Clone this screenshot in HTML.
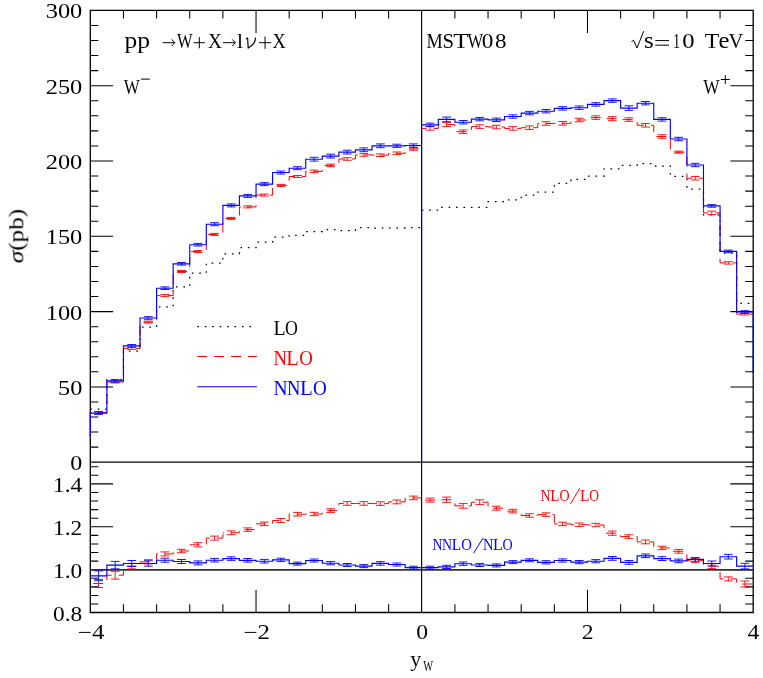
<!DOCTYPE html>
<html><head><meta charset="utf-8"><title>W rapidity distribution</title>
<style>html,body{margin:0;padding:0;background:#fff}svg{display:block}text{font-family:"Liberation Serif",serif;}</style>
</head><body>
<svg width="763" height="678" viewBox="0 0 763 678">
<rect width="763" height="678" fill="#fff"/>
<path d="M90.3 10.4H753.2V612.5H90.3Z" stroke="#000" stroke-width="1.3" fill="none"/>
<path d="M90.3 462.2H753.2" stroke="#000" stroke-width="1.2" fill="none"/>
<path d="M123.44 10.4v8.2M123.44 612.5v-8.2M156.59 10.4v8.2M156.59 612.5v-8.2M189.74 10.4v8.2M189.74 612.5v-8.2M222.88 10.4v8.2M222.88 612.5v-8.2M256.03 10.4v22.5M256.03 612.5v-22.5M289.17 10.4v8.2M289.17 612.5v-8.2M322.32 10.4v8.2M322.32 612.5v-8.2M355.46 10.4v8.2M355.46 612.5v-8.2M388.61 10.4v8.2M388.61 612.5v-8.2M454.9 10.4v8.2M454.9 612.5v-8.2M488.04 10.4v8.2M488.04 612.5v-8.2M521.19 10.4v8.2M521.19 612.5v-8.2M554.33 10.4v8.2M554.33 612.5v-8.2M587.48 10.4v22.5M587.48 612.5v-22.5M620.62 10.4v8.2M620.62 612.5v-8.2M653.76 10.4v8.2M653.76 612.5v-8.2M686.91 10.4v8.2M686.91 612.5v-8.2M720.06 10.4v8.2M720.06 612.5v-8.2M90.3 447.14h8M753.2 447.14h-8M90.3 432.08h8M753.2 432.08h-8M90.3 417.02h8M753.2 417.02h-8M90.3 401.96h8M753.2 401.96h-8M90.3 386.9h22.8M753.2 386.9h-22.8M90.3 371.84h8M753.2 371.84h-8M90.3 356.78h8M753.2 356.78h-8M90.3 341.72h8M753.2 341.72h-8M90.3 326.66h8M753.2 326.66h-8M90.3 311.6h22.8M753.2 311.6h-22.8M90.3 296.54h8M753.2 296.54h-8M90.3 281.48h8M753.2 281.48h-8M90.3 266.42h8M753.2 266.42h-8M90.3 251.36h8M753.2 251.36h-8M90.3 236.3h22.8M753.2 236.3h-22.8M90.3 221.24h8M753.2 221.24h-8M90.3 206.18h8M753.2 206.18h-8M90.3 191.12h8M753.2 191.12h-8M90.3 176.06h8M753.2 176.06h-8M90.3 161h22.8M753.2 161h-22.8M90.3 145.94h8M753.2 145.94h-8M90.3 130.88h8M753.2 130.88h-8M90.3 115.82h8M753.2 115.82h-8M90.3 100.76h8M753.2 100.76h-8M90.3 85.7h22.8M753.2 85.7h-22.8M90.3 70.64h8M753.2 70.64h-8M90.3 55.58h8M753.2 55.58h-8M90.3 40.52h8M753.2 40.52h-8M90.3 25.46h8M753.2 25.46h-8M90.3 604.04h8M753.2 604.04h-8M90.3 595.45h8M753.2 595.45h-8M90.3 586.87h8M753.2 586.87h-8M90.3 578.28h8M753.2 578.28h-8M90.3 569.7h22.8M753.2 569.7h-22.8M90.3 561.12h8M753.2 561.12h-8M90.3 552.53h8M753.2 552.53h-8M90.3 543.95h8M753.2 543.95h-8M90.3 535.36h8M753.2 535.36h-8M90.3 526.78h22.8M753.2 526.78h-22.8M90.3 518.2h8M753.2 518.2h-8M90.3 509.61h8M753.2 509.61h-8M90.3 501.03h8M753.2 501.03h-8M90.3 492.44h8M753.2 492.44h-8M90.3 483.86h22.8M753.2 483.86h-22.8M90.3 475.28h8M753.2 475.28h-8M90.3 466.69h8M753.2 466.69h-8" stroke="#000" stroke-width="1.05" fill="none" stroke-linecap="butt"/>
<path d="M90.3 569.9H753.2" stroke="#333" stroke-width="1.6" fill="none"/>
<path d="M90.3 409H106.87V379.6H123.44V351.1H140.02V327.1H156.59V306.9H173.16V286.9H189.74V273.1H206.31V263.2H222.88V253.8H239.45V247.5H256.03V242.2H272.6V237H289.17V235.4H305.74V231.5H322.31V229.7H338.89V230.5H355.46V227.6H372.03V228H388.61V227.8H405.18V227.5H421.75" stroke="#000" stroke-width="1.25" stroke-dasharray="1.6 5.82" fill="none"/>
<path d="M421.75 210.1H438.32V207.3H454.9V207.3H471.47V207.3H488.04V201.7H504.61V199.8H521.19V195H537.76V192H554.33V183.3H570.9V179.3H587.48V176.1H604.05V168.8H620.62V165.3H637.19V163.7H653.76V166.2H670.34V176.3H686.91V189H703.48V214.8H720.06V253H736.63V303.3H753.2" stroke="#000" stroke-width="1.25" stroke-dasharray="1.6 5.82" fill="none"/>
<path d="M90.3 439.5V412.6H106.87V382H123.44V348.4H140.02V322.1H156.59V295.6H173.16V271.5H189.74V251.6H206.31V234.4H222.88V218.4H239.45V206.9H256.03V195.1H272.6V185.4H289.17V176.5H305.74V171.4H322.31V165.4H338.89V159H355.46V154.9H372.03V155.2H388.61V153.3H405.18V148.9H421.75" stroke="#f00" stroke-width="1" stroke-dasharray="9.9 7.0" stroke-dashoffset="15.48" fill="none"/>
<path d="M421.75 128.4H438.32V124.6H454.9V131.7H471.47V126.6H488.04V127H504.61V128.4H521.19V127.7H537.76V123.5H554.33V123.3H570.9V120H587.48V117.6H604.05V118.7H620.62V119.6H637.19V125.3H653.76V136.5H670.34V152.2H686.91V178.2H703.48V212.9H720.06V262.9H736.63V314.1H753.2" stroke="#f00" stroke-width="1" stroke-dasharray="9.9 7.0" stroke-dashoffset="5.1" fill="none"/>
<path d="M98.59 411.6V413.6M94.19 411.6H102.99M94.19 413.6H102.99M115.16 381V383M110.76 381H119.56M110.76 383H119.56M131.73 347.4V349.4M127.33 347.4H136.13M127.33 349.4H136.13M148.3 321.1V323.1M143.9 321.1H152.7M143.9 323.1H152.7M164.88 294.6V296.6M160.48 294.6H169.28M160.48 296.6H169.28M181.45 270.5V272.5M177.05 270.5H185.85M177.05 272.5H185.85M198.02 250.6V252.6M193.62 250.6H202.42M193.62 252.6H202.42M214.59 233.4V235.4M210.19 233.4H218.99M210.19 235.4H218.99M231.17 217.4V219.4M226.77 217.4H235.57M226.77 219.4H235.57M247.74 205.9V207.9M243.34 205.9H252.14M243.34 207.9H252.14M264.31 194.1V196.1M259.91 194.1H268.71M259.91 196.1H268.71M280.88 184.4V186.4M276.48 184.4H285.28M276.48 186.4H285.28M297.46 175.5V177.5M293.06 175.5H301.86M293.06 177.5H301.86M314.03 170.1V172.7M309.63 170.1H318.43M309.63 172.7H318.43M330.6 164.1V166.7M326.2 164.1H335M326.2 166.7H335M347.17 157.7V160.3M342.77 157.7H351.57M342.77 160.3H351.57M363.75 153.6V156.2M359.35 153.6H368.15M359.35 156.2H368.15M380.32 153.9V156.5M375.92 153.9H384.72M375.92 156.5H384.72M396.89 152V154.6M392.49 152H401.29M392.49 154.6H401.29M413.46 147.6V150.2M409.06 147.6H417.86M409.06 150.2H417.86M430.04 126.65V130.15M425.64 126.65H434.44M425.64 130.15H434.44M446.61 122.6V126.6M442.21 122.6H451.01M442.21 126.6H451.01M463.18 129.95V133.45M458.78 129.95H467.58M458.78 133.45H467.58M479.75 124.85V128.35M475.35 124.85H484.15M475.35 128.35H484.15M496.33 125.25V128.75M491.93 125.25H500.73M491.93 128.75H500.73M512.9 126.65V130.15M508.5 126.65H517.3M508.5 130.15H517.3M529.47 125.95V129.45M525.07 125.95H533.87M525.07 129.45H533.87M546.04 121.75V125.25M541.64 121.75H550.44M541.64 125.25H550.44M562.62 121.55V125.05M558.22 121.55H567.02M558.22 125.05H567.02M579.19 118.25V121.75M574.79 118.25H583.59M574.79 121.75H583.59M595.76 115.85V119.35M591.36 115.85H600.16M591.36 119.35H600.16M612.33 116.7V120.7M607.93 116.7H616.73M607.93 120.7H616.73M628.91 117.85V121.35M624.51 117.85H633.31M624.51 121.35H633.31M645.48 123.55V127.05M641.08 123.55H649.88M641.08 127.05H649.88M662.05 134.75V138.25M657.65 134.75H666.45M657.65 138.25H666.45M678.62 151.2V153.2M674.22 151.2H683.02M674.22 153.2H683.02M695.2 176.45V179.95M690.8 176.45H699.6M690.8 179.95H699.6M711.77 211.15V214.65M707.37 211.15H716.17M707.37 214.65H716.17M728.34 261.7V264.1M723.94 261.7H732.74M723.94 264.1H732.74M744.91 313.2V315M740.51 313.2H749.31M740.51 315H749.31" stroke="#f00" stroke-width="0.9" fill="none"/>
<path d="M90.3 437V413.1H106.87V380.9H123.44V345.8H140.02V318H156.59V288.2H173.16V263.8H189.74V244.7H206.31V224.2H222.88V205.4H239.45V195.9H256.03V184.1H272.6V172.5H289.17V168.2H305.74V159.2H322.31V156.1H338.89V152.1H355.46V149.8H372.03V145.8H388.61V145.8H405.18V145.5H421.75" stroke="#00f" stroke-width="1.15" fill="none"/>
<path d="M421.75 124.8H438.32V119.4H454.9V122.2H471.47V119.1H488.04V119.8H504.61V116.5H521.19V113.1H537.76V111.2H554.33V108.4H570.9V107.7H587.48V104.4H604.05V100.6H620.62V108.1H637.19V103.2H653.76V119.4H670.34V139H686.91V165H703.48V205.9H720.06V251.4H736.63V312H753.2V373" stroke="#00f" stroke-width="1.15" fill="none"/>
<path d="M98.59 411.8V414.4M94.19 411.8H102.99M94.19 414.4H102.99M115.16 379.6V382.2M110.76 379.6H119.56M110.76 382.2H119.56M131.73 344.5V347.1M127.33 344.5H136.13M127.33 347.1H136.13M148.3 316.7V319.3M143.9 316.7H152.7M143.9 319.3H152.7M164.88 286.9V289.5M160.48 286.9H169.28M160.48 289.5H169.28M181.45 262.5V265.1M177.05 262.5H185.85M177.05 265.1H185.85M198.02 243.4V246M193.62 243.4H202.42M193.62 246H202.42M214.59 222.7V225.7M210.19 222.7H218.99M210.19 225.7H218.99M231.17 203.9V206.9M226.77 203.9H235.57M226.77 206.9H235.57M247.74 194.4V197.4M243.34 194.4H252.14M243.34 197.4H252.14M264.31 182.6V185.6M259.91 182.6H268.71M259.91 185.6H268.71M280.88 171V174M276.48 171H285.28M276.48 174H285.28M297.46 166.7V169.7M293.06 166.7H301.86M293.06 169.7H301.86M314.03 157.3V161.1M309.63 157.3H318.43M309.63 161.1H318.43M330.6 154.2V158M326.2 154.2H335M326.2 158H335M347.17 150.2V154M342.77 150.2H351.57M342.77 154H351.57M363.75 147.9V151.7M359.35 147.9H368.15M359.35 151.7H368.15M380.32 143.9V147.7M375.92 143.9H384.72M375.92 147.7H384.72M396.89 144.2V147.4M392.49 144.2H401.29M392.49 147.4H401.29M413.46 143.9V147.1M409.06 143.9H417.86M409.06 147.1H417.86M430.04 123.1V126.5M425.64 123.1H434.44M425.64 126.5H434.44M446.61 117.1V121.7M442.21 117.1H451.01M442.21 121.7H451.01M463.18 120.5V123.9M458.78 120.5H467.58M458.78 123.9H467.58M479.75 117.4V120.8M475.35 117.4H484.15M475.35 120.8H484.15M496.33 118.1V121.5M491.93 118.1H500.73M491.93 121.5H500.73M512.9 114.8V118.2M508.5 114.8H517.3M508.5 118.2H517.3M529.47 111.4V114.8M525.07 111.4H533.87M525.07 114.8H533.87M546.04 109.5V112.9M541.64 109.5H550.44M541.64 112.9H550.44M562.62 106.7V110.1M558.22 106.7H567.02M558.22 110.1H567.02M579.19 106V109.4M574.79 106H583.59M574.79 109.4H583.59M595.76 102.7V106.1M591.36 102.7H600.16M591.36 106.1H600.16M612.33 98.9V102.3M607.93 98.9H616.73M607.93 102.3H616.73M628.91 105.8V110.4M624.51 105.8H633.31M624.51 110.4H633.31M645.48 101.5V104.9M641.08 101.5H649.88M641.08 104.9H649.88M662.05 117.7V121.1M657.65 117.7H666.45M657.65 121.1H666.45M678.62 137.3V140.7M674.22 137.3H683.02M674.22 140.7H683.02M695.2 163.3V166.7M690.8 163.3H699.6M690.8 166.7H699.6M711.77 204.6V207.2M707.37 204.6H716.17M707.37 207.2H716.17M728.34 250.1V252.7M723.94 250.1H732.74M723.94 252.7H732.74M744.91 310.7V313.3M740.51 310.7H749.31M740.51 313.3H749.31" stroke="#00f" stroke-width="0.9" fill="none"/>
<path d="M90.3 583.5H106.87V575.2H123.44V566.1H140.02V561.8H156.59V553.9H173.16V551H189.74V544.8H206.31V538.1H222.88V532.8" stroke="#f00" stroke-width="1" stroke-dasharray="9.9 7.0" stroke-dashoffset="13.93" fill="none"/><path d="M222.88 532.8H239.45V529.6H256.03V523.8H272.6V520.5H289.17V514.2H305.74V514H322.31V510.6H338.89V503.5" stroke="#f00" stroke-width="1" stroke-dasharray="9.9 7.0" stroke-dashoffset="8.7" fill="none"/><path d="M338.89 503.5H355.46V503.4H372.03V503.6H388.61V501.9H405.18V497.9H421.75" stroke="#f00" stroke-width="1" stroke-dasharray="9.9 7.0" stroke-dashoffset="5.1" fill="none"/>
<path d="M421.75 500.1H438.32V499.7H454.9V505.9H471.47V502.2H488.04V508.2H504.61V511.1H521.19V515.5H537.76V514.6H554.33V523.9" stroke="#f00" stroke-width="1" stroke-dasharray="9.9 7.0" stroke-dashoffset="13.55" fill="none"/><path d="M554.33 523.9H570.9V524.7H587.48V525H604.05V533.2H620.62V536.6H637.19V541.9" stroke="#f00" stroke-width="1" stroke-dasharray="9.9 7.0" stroke-dashoffset="6.6" fill="none"/><path d="M637.19 541.9H653.76V547.9H670.34V551.3H686.91V560.7H703.48V566.1H720.06V578.9" stroke="#f00" stroke-width="1" stroke-dasharray="9.9 7.0" stroke-dashoffset="5.3" fill="none"/><path d="M720.06 578.9H736.63V584H753.2" stroke="#f00" stroke-width="1" stroke-dasharray="9.9 7.0" stroke-dashoffset="6.6" fill="none"/>
<path d="M98.59 579.5V587.5M94.19 579.5H102.99M94.19 587.5H102.99M115.16 571.3V579.1M110.76 571.3H119.56M110.76 579.1H119.56M131.73 563.3V568.9M127.33 563.3H136.13M127.33 568.9H136.13M148.3 559.7V563.9M143.9 559.7H152.7M143.9 563.9H152.7M164.88 551.9V555.9M160.48 551.9H169.28M160.48 555.9H169.28M181.45 549.3V552.7M177.05 549.3H185.85M177.05 552.7H185.85M198.02 542.7V546.9M193.62 542.7H202.42M193.62 546.9H202.42M214.59 536.1V540.1M210.19 536.1H218.99M210.19 540.1H218.99M231.17 530.9V534.7M226.77 530.9H235.57M226.77 534.7H235.57M247.74 527.9V531.3M243.34 527.9H252.14M243.34 531.3H252.14M264.31 522V525.6M259.91 522H268.71M259.91 525.6H268.71M280.88 518.5V522.5M276.48 518.5H285.28M276.48 522.5H285.28M297.46 512.4V516M293.06 512.4H301.86M293.06 516H301.86M314.03 512.3V515.7M309.63 512.3H318.43M309.63 515.7H318.43M330.6 508.8V512.4M326.2 508.8H335M326.2 512.4H335M347.17 501.7V505.3M342.77 501.7H351.57M342.77 505.3H351.57M363.75 501.6V505.2M359.35 501.6H368.15M359.35 505.2H368.15M380.32 501.8V505.4M375.92 501.8H384.72M375.92 505.4H384.72M396.89 500V503.8M392.49 500H401.29M392.49 503.8H401.29M413.46 496.1V499.7M409.06 496.1H417.86M409.06 499.7H417.86M430.04 498.1V502.1M425.64 498.1H434.44M425.64 502.1H434.44M446.61 497.1V502.3M442.21 497.1H451.01M442.21 502.3H451.01M463.18 503.6V508.2M458.78 503.6H467.58M458.78 508.2H467.58M479.75 499.8V504.6M475.35 499.8H484.15M475.35 504.6H484.15M496.33 506.2V510.2M491.93 506.2H500.73M491.93 510.2H500.73M512.9 509.3V512.9M508.5 509.3H517.3M508.5 512.9H517.3M529.47 513.8V517.2M525.07 513.8H533.87M525.07 517.2H533.87M546.04 512.8V516.4M541.64 512.8H550.44M541.64 516.4H550.44M562.62 522.2V525.6M558.22 522.2H567.02M558.22 525.6H567.02M579.19 523V526.4M574.79 523H583.59M574.79 526.4H583.59M595.76 523.3V526.7M591.36 523.3H600.16M591.36 526.7H600.16M612.33 531.1V535.3M607.93 531.1H616.73M607.93 535.3H616.73M628.91 534.8V538.4M624.51 534.8H633.31M624.51 538.4H633.31M645.48 540V543.8M641.08 540H649.88M641.08 543.8H649.88M662.05 546.2V549.6M657.65 546.2H666.45M657.65 549.6H666.45M678.62 549.4V553.2M674.22 549.4H683.02M674.22 553.2H683.02M695.2 558.7V562.7M690.8 558.7H699.6M690.8 562.7H699.6M711.77 563.8V568.4M707.37 563.8H716.17M707.37 568.4H716.17M728.34 576.9V580.9M723.94 576.9H732.74M723.94 580.9H732.74M744.91 581V587M740.51 581H749.31M740.51 587H749.31" stroke="#f00" stroke-width="0.9" fill="none"/>
<path d="M90.3 575.8H106.87V565.1H123.44V563.5H140.02V563.5H156.59V560.2H173.16V561.5H189.74V562.9H206.31V560.2H222.88V558.6H239.45V560.3H256.03V561.2H272.6V559.9H289.17V563.6H305.74V560.5H322.31V563.2H338.89V565H355.46V566.1H372.03V563.4H388.61V564.5H405.18V567.6H421.75V567.6H438.32V566.9H454.9V563.7H471.47V565H488.04V565.4H504.61V562.1H521.19V560.3H537.76V562.3H554.33V560.5H570.9V562.1H587.48V561.2H604.05V558.4H620.62V562.4H637.19V555.8H653.76V558.6H670.34V560.9H686.91V559.4H703.48V563.5H720.06V556.7H736.63V566.1H753.2" stroke="#00f" stroke-width="1.15" fill="none"/>
<path d="M98.59 570.9V580.7M94.19 570.9H102.99M94.19 580.7H102.99M115.16 561.4V568.8M110.76 561.4H119.56M110.76 568.8H119.56M131.73 560.5V566.5M127.33 560.5H136.13M127.33 566.5H136.13M148.3 560.8V566.2M143.9 560.8H152.7M143.9 566.2H152.7M164.88 558.2V562.2M160.48 558.2H169.28M160.48 562.2H169.28M181.45 559.5V563.5M177.05 559.5H185.85M177.05 563.5H185.85M198.02 560.9V564.9M193.62 560.9H202.42M193.62 564.9H202.42M214.59 558.4V562M210.19 558.4H218.99M210.19 562H218.99M231.17 556.8V560.4M226.77 556.8H235.57M226.77 560.4H235.57M247.74 558.5V562.1M243.34 558.5H252.14M243.34 562.1H252.14M264.31 559.4V563M259.91 559.4H268.71M259.91 563H268.71M280.88 558.2V561.6M276.48 558.2H285.28M276.48 561.6H285.28M297.46 562.1V565.1M293.06 562.1H301.86M293.06 565.1H301.86M314.03 559V562M309.63 559H318.43M309.63 562H318.43M330.6 561.6V564.8M326.2 561.6H335M326.2 564.8H335M347.17 563.5V566.5M342.77 563.5H351.57M342.77 566.5H351.57M363.75 564.6V567.6M359.35 564.6H368.15M359.35 567.6H368.15M380.32 561.6V565.2M375.92 561.6H384.72M375.92 565.2H384.72M396.89 563V566M392.49 563H401.29M392.49 566H401.29M413.46 566.2V569M409.06 566.2H417.86M409.06 569H417.86M430.04 566.2V569M425.64 566.2H434.44M425.64 569H434.44M446.61 565.3V568.5M442.21 565.3H451.01M442.21 568.5H451.01M463.18 562V565.4M458.78 562H467.58M458.78 565.4H467.58M479.75 563.5V566.5M475.35 563.5H484.15M475.35 566.5H484.15M496.33 563.9V566.9M491.93 563.9H500.73M491.93 566.9H500.73M512.9 560.6V563.6M508.5 560.6H517.3M508.5 563.6H517.3M529.47 558.8V561.8M525.07 558.8H533.87M525.07 561.8H533.87M546.04 560.7V563.9M541.64 560.7H550.44M541.64 563.9H550.44M562.62 558.9V562.1M558.22 558.9H567.02M558.22 562.1H567.02M579.19 560.5V563.7M574.79 560.5H583.59M574.79 563.7H583.59M595.76 559.6V562.8M591.36 559.6H600.16M591.36 562.8H600.16M612.33 556.5V560.3M607.93 556.5H616.73M607.93 560.3H616.73M628.91 560.5V564.3M624.51 560.5H633.31M624.51 564.3H633.31M645.48 554V557.6M641.08 554H649.88M641.08 557.6H649.88M662.05 556.7V560.5M657.65 556.7H666.45M657.65 560.5H666.45M678.62 559.1V562.7M674.22 559.1H683.02M674.22 562.7H683.02M695.2 557.5V561.3M690.8 557.5H699.6M690.8 561.3H699.6M711.77 561V566M707.37 561H716.17M707.37 566H716.17M728.34 554.4V559M723.94 554.4H732.74M723.94 559H732.74M744.91 563.3V568.9M740.51 563.3H749.31M740.51 568.9H749.31" stroke="#00f" stroke-width="0.9" fill="none"/>
<path d="M421.6 10.4V612.5" stroke="#000" stroke-width="1.15" fill="none"/>
<path d="M421.85 124.8V462.2" stroke="#00f" stroke-width="1.15" stroke-opacity="0.3" fill="none"/>
<path d="M197.4 326.7H251.5" stroke="#000" stroke-width="1.25" stroke-dasharray="1.6 5.82" fill="none"/>
<path d="M197.3 356.5H256.9" stroke="#f00" stroke-width="1" stroke-dasharray="9.9 7" fill="none"/>
<path d="M197.3 386.8H256.9" stroke="#00f" stroke-width="1.1" fill="none"/>
<g opacity="0.999">
<text x="279.45" y="335" font-size="21" text-anchor="middle" fill="#000" textLength="12.1" lengthAdjust="spacingAndGlyphs">L</text>
<text x="291.45" y="335" font-size="21" text-anchor="middle" fill="#000" textLength="12.9" lengthAdjust="spacingAndGlyphs">O</text>
<text x="280.15" y="364.8" font-size="21" text-anchor="middle" fill="#f00" textLength="13.5" lengthAdjust="spacingAndGlyphs">N</text>
<text x="292.55" y="364.8" font-size="21" text-anchor="middle" fill="#f00" textLength="12.5" lengthAdjust="spacingAndGlyphs">L</text>
<text x="306" y="364.8" font-size="21" text-anchor="middle" fill="#f00" textLength="13.6" lengthAdjust="spacingAndGlyphs">O</text>
<text x="280.45" y="394.7" font-size="21" text-anchor="middle" fill="#00f" textLength="14.1" lengthAdjust="spacingAndGlyphs">N</text>
<text x="293.7" y="394.7" font-size="21" text-anchor="middle" fill="#00f" textLength="13.4" lengthAdjust="spacingAndGlyphs">N</text>
<text x="306.4" y="394.7" font-size="21" text-anchor="middle" fill="#00f" textLength="12.8" lengthAdjust="spacingAndGlyphs">L</text>
<text x="319.8" y="394.7" font-size="21" text-anchor="middle" fill="#00f" textLength="13.8" lengthAdjust="spacingAndGlyphs">O</text>
<text x="130.75" y="48.4" font-size="23" text-anchor="middle" fill="#000" textLength="12.7" lengthAdjust="spacingAndGlyphs">p</text>
<text x="143.7" y="48.4" font-size="23" text-anchor="middle" fill="#000" textLength="12.8" lengthAdjust="spacingAndGlyphs">p</text>
<path d="M162.7 42.7H174.8M171.6 39.4L174.8 42.7L171.6 46" stroke="#000" stroke-width="1" fill="none" stroke-linejoin="miter"/>
<text x="184.8" y="48.4" font-size="21" text-anchor="middle" fill="#000" textLength="15.6" lengthAdjust="spacingAndGlyphs">W</text>
<text x="214.85" y="48.4" font-size="21" text-anchor="middle" fill="#000" textLength="13.9" lengthAdjust="spacingAndGlyphs">X</text>
<text x="240.1" y="48.4" font-size="21" text-anchor="middle" fill="#000" textLength="6" lengthAdjust="spacingAndGlyphs">l</text>
<text x="279.15" y="48.4" font-size="21" text-anchor="middle" fill="#000" textLength="13.3" lengthAdjust="spacingAndGlyphs">X</text>
<path d="M193.7 42.7H204.9M199.3 37.1V48.3" stroke="#000" stroke-width="1.0" fill="none"/>
<path d="M245.9 38.9L247.6 37.9L248.2 48.1C252.6 45.6 255.6 41.5 255.5 37.5" stroke="#000" stroke-width="1.15" fill="none" stroke-linejoin="round"/>
<path d="M223 42.7H235.4M232.2 39.4L235.4 42.7L232.2 46" stroke="#000" stroke-width="1" fill="none" stroke-linejoin="miter"/>
<path d="M258.9 42.7H271.2M265.05 36.55V48.85" stroke="#000" stroke-width="1.0" fill="none"/>
<text x="131.75" y="94" font-size="22" text-anchor="middle" fill="#000" textLength="16.1" lengthAdjust="spacingAndGlyphs">W</text>
<path d="M141 79.1H149.9" stroke="#000" stroke-width="1.0" fill="none"/>
<text x="711.5" y="94" font-size="22" text-anchor="middle" fill="#000" textLength="16.4" lengthAdjust="spacingAndGlyphs">W</text>
<path d="M720.8 79.5H729.8M725.3 75V84" stroke="#000" stroke-width="1.0" fill="none"/>
<text x="434.5" y="48.4" font-size="21" text-anchor="middle" fill="#000" textLength="16.2" lengthAdjust="spacingAndGlyphs">M</text>
<text x="448.15" y="48.4" font-size="21" text-anchor="middle" fill="#000" textLength="11.5" lengthAdjust="spacingAndGlyphs">S</text>
<text x="460.9" y="48.4" font-size="21" text-anchor="middle" fill="#000" textLength="15.4" lengthAdjust="spacingAndGlyphs">T</text>
<text x="475.2" y="48.4" font-size="21" text-anchor="middle" fill="#000" textLength="15.6" lengthAdjust="spacingAndGlyphs">W</text>
<text x="487.6" y="48.4" font-size="21" text-anchor="middle" fill="#000" textLength="11.6" lengthAdjust="spacingAndGlyphs">0</text>
<text x="500.85" y="48.4" font-size="21" text-anchor="middle" fill="#000" textLength="11.5" lengthAdjust="spacingAndGlyphs">8</text>
<path d="M631.5 41.5L633.6 40.3L637 48L643.7 31.2" stroke="#000" stroke-width="1" fill="none"/>
<text x="648.85" y="48.3" font-size="23" text-anchor="middle" fill="#000" textLength="9.7" lengthAdjust="spacingAndGlyphs">s</text>
<text x="676.55" y="48.3" font-size="21" text-anchor="middle" fill="#000" textLength="7.1" lengthAdjust="spacingAndGlyphs">1</text>
<text x="688.45" y="48.3" font-size="21" text-anchor="middle" fill="#000" textLength="12.3" lengthAdjust="spacingAndGlyphs">0</text>
<text x="712.05" y="48.3" font-size="21" text-anchor="middle" fill="#000" textLength="14.5" lengthAdjust="spacingAndGlyphs">T</text>
<text x="724.1" y="48.3" font-size="23" text-anchor="middle" fill="#000" textLength="11" lengthAdjust="spacingAndGlyphs">e</text>
<text x="735.8" y="48.3" font-size="21" text-anchor="middle" fill="#000" textLength="14.8" lengthAdjust="spacingAndGlyphs">V</text>
<path d="M655.3 40.6H669M655.3 45.2H669" stroke="#000" stroke-width="1" fill="none"/>
<text x="545.55" y="500.8" font-size="16.3" text-anchor="middle" fill="#f00" textLength="9.9" lengthAdjust="spacingAndGlyphs">N</text>
<text x="554.8" y="500.8" font-size="16.3" text-anchor="middle" fill="#f00" textLength="9.2" lengthAdjust="spacingAndGlyphs">L</text>
<text x="564.45" y="500.8" font-size="16.3" text-anchor="middle" fill="#f00" textLength="10.1" lengthAdjust="spacingAndGlyphs">O</text>
<text x="584.75" y="500.8" font-size="16.3" text-anchor="middle" fill="#f00" textLength="9.5" lengthAdjust="spacingAndGlyphs">L</text>
<text x="594.05" y="500.8" font-size="16.3" text-anchor="middle" fill="#f00" textLength="9.7" lengthAdjust="spacingAndGlyphs">O</text>
<path d="M570.5 503.8L579.8 488.2" stroke="#f00" stroke-width="1" fill="none"/>
<text x="437.6" y="550.3" font-size="16.5" text-anchor="middle" fill="#00f" textLength="10" lengthAdjust="spacingAndGlyphs">N</text>
<text x="447" y="550.3" font-size="16.5" text-anchor="middle" fill="#00f" textLength="10" lengthAdjust="spacingAndGlyphs">N</text>
<text x="456.5" y="550.3" font-size="16.5" text-anchor="middle" fill="#00f" textLength="9.4" lengthAdjust="spacingAndGlyphs">L</text>
<text x="466.5" y="550.3" font-size="16.5" text-anchor="middle" fill="#00f" textLength="10.6" lengthAdjust="spacingAndGlyphs">O</text>
<text x="488.25" y="550.3" font-size="16.5" text-anchor="middle" fill="#00f" textLength="10.5" lengthAdjust="spacingAndGlyphs">N</text>
<text x="498" y="550.3" font-size="16.5" text-anchor="middle" fill="#00f" textLength="9.8" lengthAdjust="spacingAndGlyphs">L</text>
<text x="507.6" y="550.3" font-size="16.5" text-anchor="middle" fill="#00f" textLength="10.2" lengthAdjust="spacingAndGlyphs">O</text>
<path d="M473.6 553.2L483.2 537.8" stroke="#00f" stroke-width="1" fill="none"/>
<text x="82.3" y="470.2" font-size="20.5" text-anchor="end" fill="#000" textLength="12" lengthAdjust="spacingAndGlyphs">0</text>
<text x="82.3" y="394.9" font-size="20.5" text-anchor="end" fill="#000" textLength="24.3" lengthAdjust="spacingAndGlyphs">50</text>
<text x="82.3" y="319.6" font-size="20.5" text-anchor="end" fill="#000" textLength="36.6" lengthAdjust="spacingAndGlyphs">100</text>
<text x="82.3" y="244.3" font-size="20.5" text-anchor="end" fill="#000" textLength="36.6" lengthAdjust="spacingAndGlyphs">150</text>
<text x="82.3" y="169" font-size="20.5" text-anchor="end" fill="#000" textLength="36.6" lengthAdjust="spacingAndGlyphs">200</text>
<text x="82.3" y="93.7" font-size="20.5" text-anchor="end" fill="#000" textLength="36.6" lengthAdjust="spacingAndGlyphs">250</text>
<text x="82.3" y="18.4" font-size="20.5" text-anchor="end" fill="#000" textLength="36.6" lengthAdjust="spacingAndGlyphs">300</text>
<text x="82.3" y="620.62" font-size="20.5" text-anchor="end" fill="#000" textLength="29.2" lengthAdjust="spacingAndGlyphs">0.8</text>
<text x="82.3" y="577.7" font-size="20.5" text-anchor="end" fill="#000" textLength="29.2" lengthAdjust="spacingAndGlyphs">1.0</text>
<text x="82.3" y="534.78" font-size="20.5" text-anchor="end" fill="#000" textLength="29.2" lengthAdjust="spacingAndGlyphs">1.2</text>
<text x="82.3" y="491.86" font-size="20.5" text-anchor="end" fill="#000" textLength="29.2" lengthAdjust="spacingAndGlyphs">1.4</text>
<text x="91.1" y="638.5" font-size="20.5" text-anchor="middle" fill="#000" textLength="26.5" lengthAdjust="spacingAndGlyphs">−4</text>
<text x="256.83" y="638.5" font-size="20.5" text-anchor="middle" fill="#000" textLength="26.5" lengthAdjust="spacingAndGlyphs">−2</text>
<text x="422.05" y="638.5" font-size="20.5" text-anchor="middle" fill="#000" textLength="11.8" lengthAdjust="spacingAndGlyphs">0</text>
<text x="587.77" y="638.5" font-size="20.5" text-anchor="middle" fill="#000" textLength="11.8" lengthAdjust="spacingAndGlyphs">2</text>
<text x="753.5" y="638.5" font-size="20.5" text-anchor="middle" fill="#000" textLength="11.8" lengthAdjust="spacingAndGlyphs">4</text>
<text x="410.3" y="665.6" font-size="22" text-anchor="start" fill="#000" textLength="11" lengthAdjust="spacingAndGlyphs">y</text>
<text x="423.3" y="670.5" font-size="14.5" text-anchor="start" fill="#000" textLength="9.8" lengthAdjust="spacingAndGlyphs">W</text>
<text transform="translate(23.3 263.3) rotate(-90)" font-size="21" textLength="54.4" lengthAdjust="spacingAndGlyphs"><tspan font-style="italic">σ</tspan>(pb)</text>
</g>
</svg></body></html>
